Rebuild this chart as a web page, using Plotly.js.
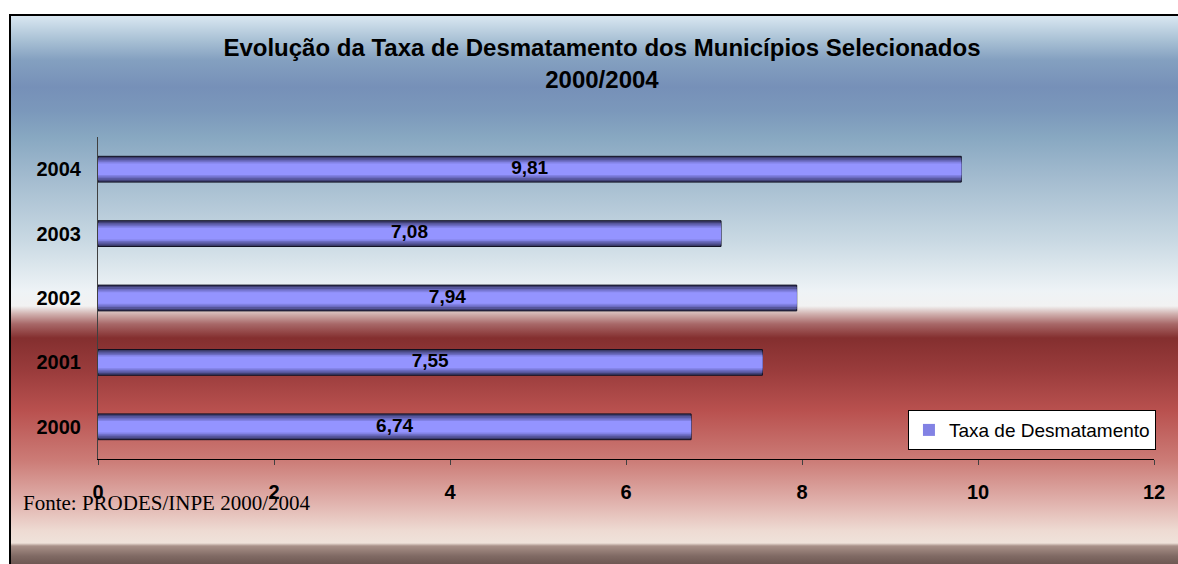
<!DOCTYPE html>
<html>
<head>
<meta charset="utf-8">
<script src="https://cdn.plot.ly/plotly-3.0.1.min.js"></script>
<style>
  html, body { margin: 0; padding: 0; background: #ffffff; overflow: hidden; }
  #frame {
    position: absolute; left: 9px; top: 14px; width: 1200px; height: 600px;
    border: 2px solid #000;
    background: linear-gradient(to bottom,
      #d9e7f1 0px, #a9c1d5 24px, #84a0c0 44px, #7690b8 71px, #7b98bb 95px,
      #87a7c1 120px, #a5bdd0 165px, #c9d9e3 225px, #eef3f6 275px, #f2f2f2 290px,
      #d0b0ae 298px, #a86868 308px, #842f2f 322px, #9a3c3c 355px, #b9514f 395px,
      #cc7c77 445px, #e0b0ab 485px, #eedbd3 515px, #efe2da 527px, #a89088 530px,
      #806a64 540px, #6e5853 548px);
  }
  #myDiv { position: absolute; left: 0; top: 0; width: 1178px; height: 564px; }
</style>
</head>
<body>
<div id="frame"></div>
<div id="myDiv"></div>
<script>
// data
var years = ['2000', '2001', '2002', '2003', '2004'];
var taxa = [6.74, 7.55, 7.94, 7.08, 9.81];
var xTicks = [0, 2, 4, 6, 8, 10, 12];

// half values, used to put the labels in the middle of each bar
var half = [];
for (var i = 0; i < taxa.length; i++) {
  half.push(taxa[i] / 2);
}

// bars are drawn as overlaid layers to get the shaded "tube" look
var layers = [
  {w: 0.40, c: '#3c3c6c', lw: 1, lc: '#101020'},
  {w: 0.34, c: '#56569c', lw: 0, lc: '#000'},
  {w: 0.28, c: '#6c6cc2', lw: 0, lc: '#000'},
  {w: 0.23, c: '#8282e4', lw: 0, lc: '#000'},
  {w: 0.18, c: '#9494ff', lw: 0, lc: '#000'}
];

var data = [];
for (var k = 0; k < layers.length; k++) {
  var widths = [];
  for (var j = 0; j < years.length; j++) widths.push(layers[k].w);
  data.push({
    type: 'bar',
    orientation: 'h',
    x: taxa,
    y: years,
    width: widths,
    name: 'Taxa de Desmatamento',
    showlegend: k == 3,
    marker: {color: layers[k].c, line: {width: layers[k].lw, color: layers[k].lc}},
    hoverinfo: 'skip'
  });
}

// value labels
data.push({
  type: 'scatter',
  mode: 'text',
  x: half,
  y: years,
  text: taxa,
  texttemplate: '%{text:.2f}',
  textposition: 'middle center',
  textfont: {family: 'Liberation Sans, Arial', size: 19, color: '#000', weight: 'bold'},
  showlegend: false,
  hoverinfo: 'skip'
});

var layout = {
  width: 1178,
  height: 564,
  separators: ',.',
  barmode: 'overlay',
  paper_bgcolor: 'rgba(0,0,0,0)',
  plot_bgcolor: 'rgba(0,0,0,0)',
  margin: {l: 98, r: 24, t: 137, b: 105, autoexpand: false},
  font: {family: 'Liberation Sans, Arial', color: '#000'},
  title: {
    text: 'Evolução da Taxa de Desmatamento dos Municípios Selecionados<br>2000/2004',
    font: {family: 'Liberation Sans, Arial', size: 24, color: '#000', weight: 'bold'},
    x: 0.511,
    xanchor: 'center',
    y: 0.9,
    yanchor: 'top'
  },
  xaxis: {
    range: [0, 12],
    tickvals: xTicks,
    ticktext: xTicks.map(String),
    showgrid: false,
    zeroline: false,
    showline: true,
    linecolor: '#000',
    linewidth: 1,
    ticks: 'outside',
    ticklen: 5,
    tickcolor: '#404040',
    ticklabelstandoff: 10,
    tickfont: {family: 'Liberation Sans, Arial', size: 20, color: '#000', weight: 'bold'}
  },
  yaxis: {
    type: 'category',
    showgrid: false,
    zeroline: false,
    showline: true,
    linecolor: '#404040',
    linewidth: 1,
    ticks: '',
    ticklabelstandoff: 12,
    tickfont: {family: 'Liberation Sans, Arial', size: 20, color: '#000', weight: 'bold'}
  },
  legend: {
    x: 0.767,
    xanchor: 'left',
    y: 0.152,
    yanchor: 'top',
    bgcolor: '#ffffff',
    bordercolor: '#000',
    borderwidth: 1,
    font: {family: 'Liberation Sans, Arial', size: 19, color: '#000'},
    itemwidth: 30
  },
  annotations: [{
    text: 'Fonte: PRODES/INPE 2000/2004',
    xref: 'paper', yref: 'paper',
    x: -0.073, y: -0.137,
    xanchor: 'left', yanchor: 'middle',
    showarrow: false,
    font: {family: 'Liberation Serif, Times New Roman', size: 21, color: '#000'}
  }]
};

Plotly.newPlot('myDiv', data, layout, {staticPlot: true});
</script>
</body>
</html>
